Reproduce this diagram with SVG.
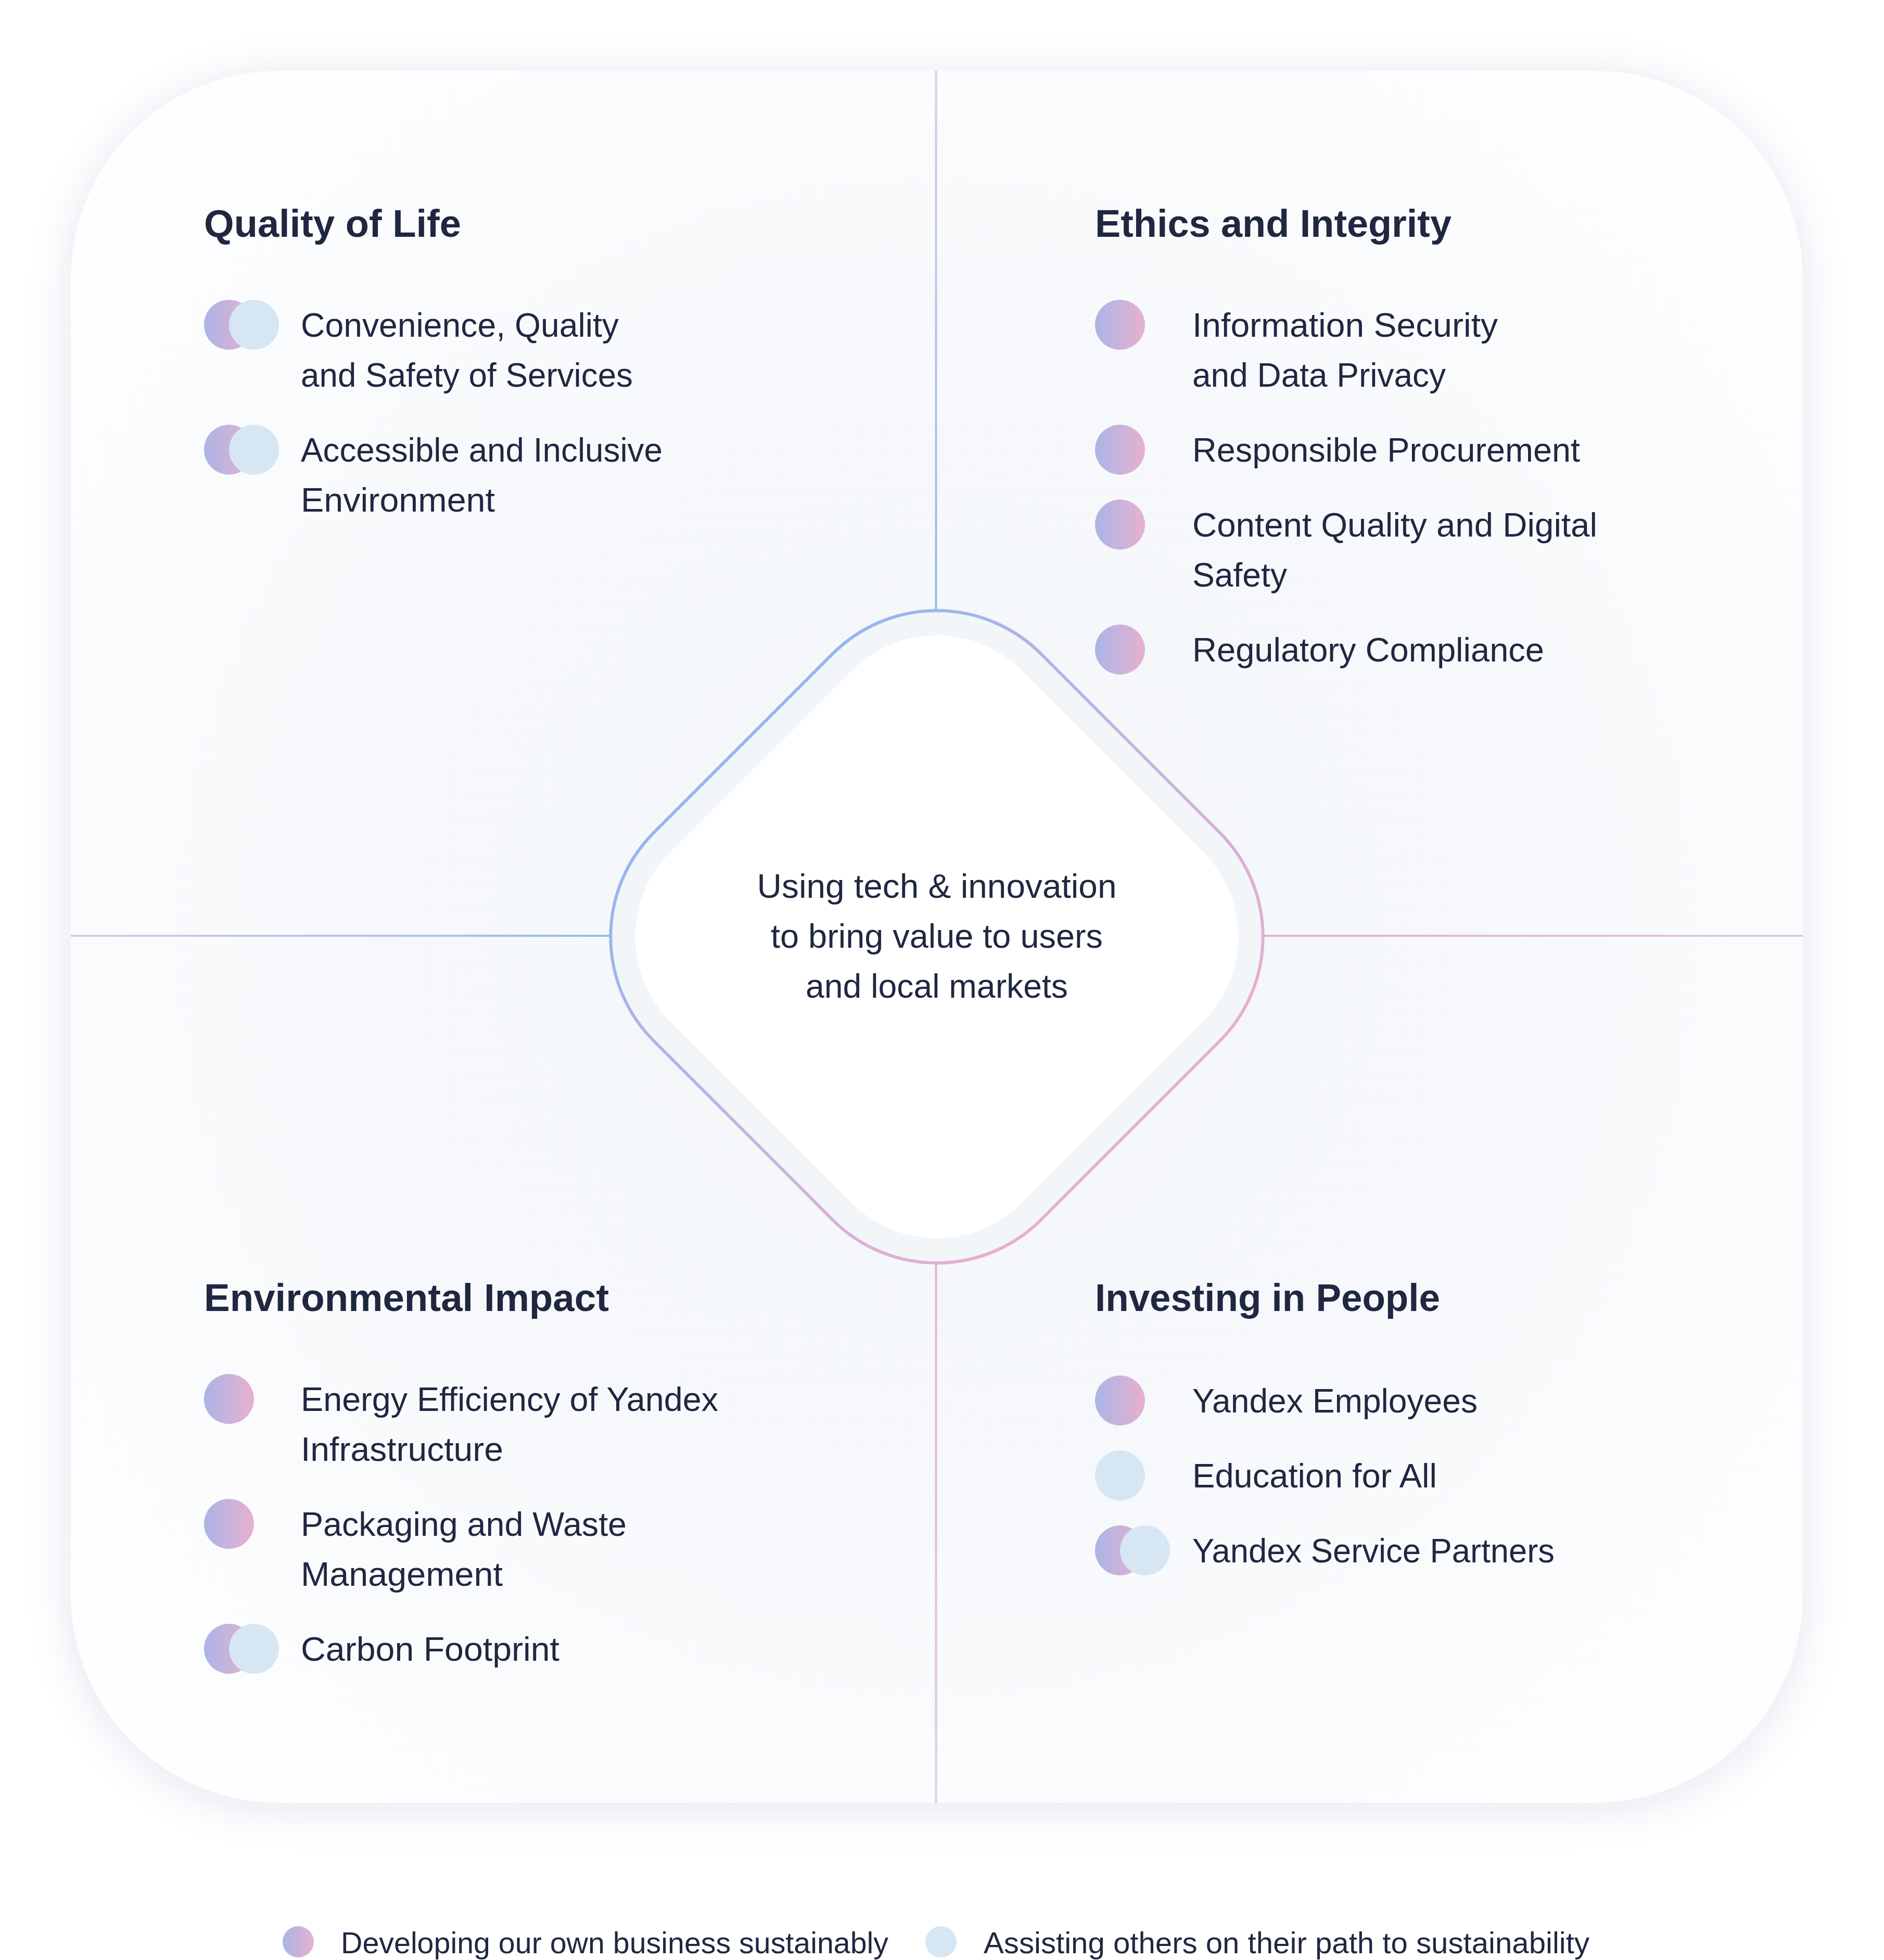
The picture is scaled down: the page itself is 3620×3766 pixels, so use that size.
<svg xmlns="http://www.w3.org/2000/svg" width="3620" height="3766" viewBox="0 0 3620 3766">
  <style>
    .title { font-family: "Liberation Sans", Arial, sans-serif; font-weight: 700; font-size: 74px; fill: #1f2741; }
    .body { font-family: "Liberation Sans", Arial, sans-serif; font-weight: 400; font-size: 64px; fill: #1f2741; }
    .center { font-family: "Liberation Sans", Arial, sans-serif; font-weight: 400; font-size: 64px; fill: #1f2741; text-anchor: middle; }
    .legend { font-family: "Liberation Sans", Arial, sans-serif; font-weight: 400; font-size: 58px; fill: #1f2741; }
    .own { fill: url(#gOwn); }
    .assist { fill: #d6e6f3; }
    .axis { stroke-width: 4; fill: none; }
  </style>
  <defs>
    <linearGradient id="gOwn" x1="0" y1="0" x2="1" y2="0">
      <stop offset="0" stop-color="#aab5e6"/>
      <stop offset="1" stop-color="#e8b0d0"/>
    </linearGradient>
    <radialGradient id="gCard" cx="1800" cy="1800" r="2350" gradientUnits="userSpaceOnUse">
      <stop offset="0" stop-color="#f3f6f9"/>
      <stop offset="0.45" stop-color="#f6f8fb"/>
      <stop offset="1" stop-color="#ffffff"/>
    </radialGradient>
    <linearGradient id="gDiamond" x1="0" y1="0" x2="1" y2="0">
      <stop offset="0" stop-color="#93b7ef"/>
      <stop offset="0.5" stop-color="#c4b3df"/>
      <stop offset="1" stop-color="#e8aed0"/>
    </linearGradient>
    <linearGradient id="gTop" x1="0" y1="136" x2="0" y2="1173" gradientUnits="userSpaceOnUse">
      <stop offset="0" stop-color="#d9cde2"/>
      <stop offset="1" stop-color="#98baee"/>
    </linearGradient>
    <linearGradient id="gLeft" x1="136" y1="0" x2="1173" y2="0" gradientUnits="userSpaceOnUse">
      <stop offset="0" stop-color="#d9cde2"/>
      <stop offset="1" stop-color="#98baee"/>
    </linearGradient>
    <linearGradient id="gRight" x1="2427" y1="0" x2="3464" y2="0" gradientUnits="userSpaceOnUse">
      <stop offset="0" stop-color="#e7b1d2"/>
      <stop offset="1" stop-color="#d9cde2"/>
    </linearGradient>
    <linearGradient id="gBottom" x1="0" y1="2427" x2="0" y2="3464" gradientUnits="userSpaceOnUse">
      <stop offset="0" stop-color="#e7b1d2"/>
      <stop offset="1" stop-color="#d9cde2"/>
    </linearGradient>
    <filter id="shadow" x="-10%" y="-10%" width="120%" height="120%">
      <feDropShadow dx="0" dy="10" stdDeviation="45" flood-color="#d9deea" flood-opacity="0.75"/>
    </filter>
  </defs>

  <rect width="3620" height="3766" fill="#ffffff"/>

  <g id="card">
    <rect x="136" y="136" width="3328" height="3328" rx="400" ry="400" fill="url(#gCard)" filter="url(#shadow)"/>
  </g>

  <g id="connectors">
    <line class="axis" x1="1798.5" y1="136" x2="1798.5" y2="1175" stroke="url(#gTop)"/>
    <line class="axis" x1="136" y1="1798" x2="1175" y2="1798" stroke="url(#gLeft)"/>
    <line class="axis" x1="2425" y1="1798" x2="3464" y2="1798" stroke="url(#gRight)"/>
    <line class="axis" x1="1798.5" y1="2425" x2="1798.5" y2="3464" stroke="url(#gBottom)"/>
  </g>

  <g id="center-node">
    <rect x="1274" y="1274" width="1052" height="1052" rx="283" ry="283" transform="rotate(45 1800 1800)" fill="#f3f6f9" stroke="url(#gDiamond)" stroke-width="6"/>
    <rect x="1323" y="1323" width="954" height="954" rx="230" ry="230" transform="rotate(45 1800 1800)" fill="#ffffff"/>
    <text class="center" x="1800" y="1725" textLength="691" lengthAdjust="spacingAndGlyphs">Using tech &amp; innovation</text>
    <text class="center" x="1800" y="1821" textLength="638" lengthAdjust="spacingAndGlyphs">to bring value to users</text>
    <text class="center" x="1800" y="1917" textLength="504" lengthAdjust="spacingAndGlyphs">and local markets</text>
  </g>

  <g id="quality-of-life">
    <text class="title" x="392" y="455" textLength="494" lengthAdjust="spacingAndGlyphs">Quality of Life</text>
    <g id="q1-item1">
      <circle class="own" cx="440" cy="624" r="48"/>
      <circle class="assist" cx="488" cy="624" r="48"/>
      <text class="body" x="578" y="647" textLength="611" lengthAdjust="spacingAndGlyphs">Convenience, Quality</text>
      <text class="body" x="578" y="743" textLength="638" lengthAdjust="spacingAndGlyphs">and Safety of Services</text>
    </g>
    <g id="q1-item2">
      <circle class="own" cx="440" cy="864" r="48"/>
      <circle class="assist" cx="488" cy="864" r="48"/>
      <text class="body" x="578" y="887" textLength="695" lengthAdjust="spacingAndGlyphs">Accessible and Inclusive</text>
      <text class="body" x="578" y="983" textLength="373" lengthAdjust="spacingAndGlyphs">Environment</text>
    </g>
  </g>

  <g id="ethics-and-integrity">
    <text class="title" x="2104" y="455" textLength="685" lengthAdjust="spacingAndGlyphs">Ethics and Integrity</text>
    <g id="q2-item1">
      <circle class="own" cx="2152" cy="624" r="48"/>
      <text class="body" x="2291" y="647" textLength="587" lengthAdjust="spacingAndGlyphs">Information Security</text>
      <text class="body" x="2291" y="743" textLength="487" lengthAdjust="spacingAndGlyphs">and Data Privacy</text>
    </g>
    <g id="q2-item2">
      <circle class="own" cx="2152" cy="864" r="48"/>
      <text class="body" x="2291" y="887" textLength="745" lengthAdjust="spacingAndGlyphs">Responsible Procurement</text>
    </g>
    <g id="q2-item3">
      <circle class="own" cx="2152" cy="1008" r="48"/>
      <text class="body" x="2291" y="1031" textLength="778" lengthAdjust="spacingAndGlyphs">Content Quality and Digital</text>
      <text class="body" x="2291" y="1127" textLength="182" lengthAdjust="spacingAndGlyphs">Safety</text>
    </g>
    <g id="q2-item4">
      <circle class="own" cx="2152" cy="1248" r="48"/>
      <text class="body" x="2291" y="1271" textLength="676" lengthAdjust="spacingAndGlyphs">Regulatory Compliance</text>
    </g>
  </g>

  <g id="environmental-impact">
    <text class="title" x="392" y="2519" textLength="778" lengthAdjust="spacingAndGlyphs">Environmental Impact</text>
    <g id="q3-item1">
      <circle class="own" cx="440" cy="2688" r="48"/>
      <text class="body" x="578" y="2711" textLength="802" lengthAdjust="spacingAndGlyphs">Energy Efficiency of Yandex</text>
      <text class="body" x="578" y="2807" textLength="389" lengthAdjust="spacingAndGlyphs">Infrastructure</text>
    </g>
    <g id="q3-item2">
      <circle class="own" cx="440" cy="2928" r="48"/>
      <text class="body" x="578" y="2951" textLength="626" lengthAdjust="spacingAndGlyphs">Packaging and Waste</text>
      <text class="body" x="578" y="3047" textLength="388" lengthAdjust="spacingAndGlyphs">Management</text>
    </g>
    <g id="q3-item3">
      <circle class="own" cx="440" cy="3168" r="48"/>
      <circle class="assist" cx="488" cy="3168" r="48"/>
      <text class="body" x="578" y="3191" textLength="497" lengthAdjust="spacingAndGlyphs">Carbon Footprint</text>
    </g>
  </g>

  <g id="investing-in-people">
    <text class="title" x="2104" y="2519" textLength="663" lengthAdjust="spacingAndGlyphs">Investing in People</text>
    <g id="q4-item1">
      <circle class="own" cx="2152" cy="2691" r="48"/>
      <text class="body" x="2291" y="2714" textLength="548" lengthAdjust="spacingAndGlyphs">Yandex Employees</text>
    </g>
    <g id="q4-item2">
      <circle class="assist" cx="2152" cy="2835" r="48"/>
      <text class="body" x="2291" y="2858" textLength="470" lengthAdjust="spacingAndGlyphs">Education for All</text>
    </g>
    <g id="q4-item3">
      <circle class="own" cx="2152" cy="2979" r="48"/>
      <circle class="assist" cx="2200" cy="2979" r="48"/>
      <text class="body" x="2291" y="3002" textLength="696" lengthAdjust="spacingAndGlyphs">Yandex Service Partners</text>
    </g>
  </g>

  <g id="legend">
    <g id="legend-own">
      <circle class="own" cx="573" cy="3731" r="30"/>
      <text class="legend" x="655" y="3753" textLength="1052" lengthAdjust="spacingAndGlyphs">Developing our own business sustainably</text>
    </g>
    <g id="legend-assist">
      <circle class="assist" cx="1808" cy="3731" r="30"/>
      <text class="legend" x="1890" y="3753" textLength="1164" lengthAdjust="spacingAndGlyphs">Assisting others on their path to sustainability</text>
    </g>
  </g>
</svg>
